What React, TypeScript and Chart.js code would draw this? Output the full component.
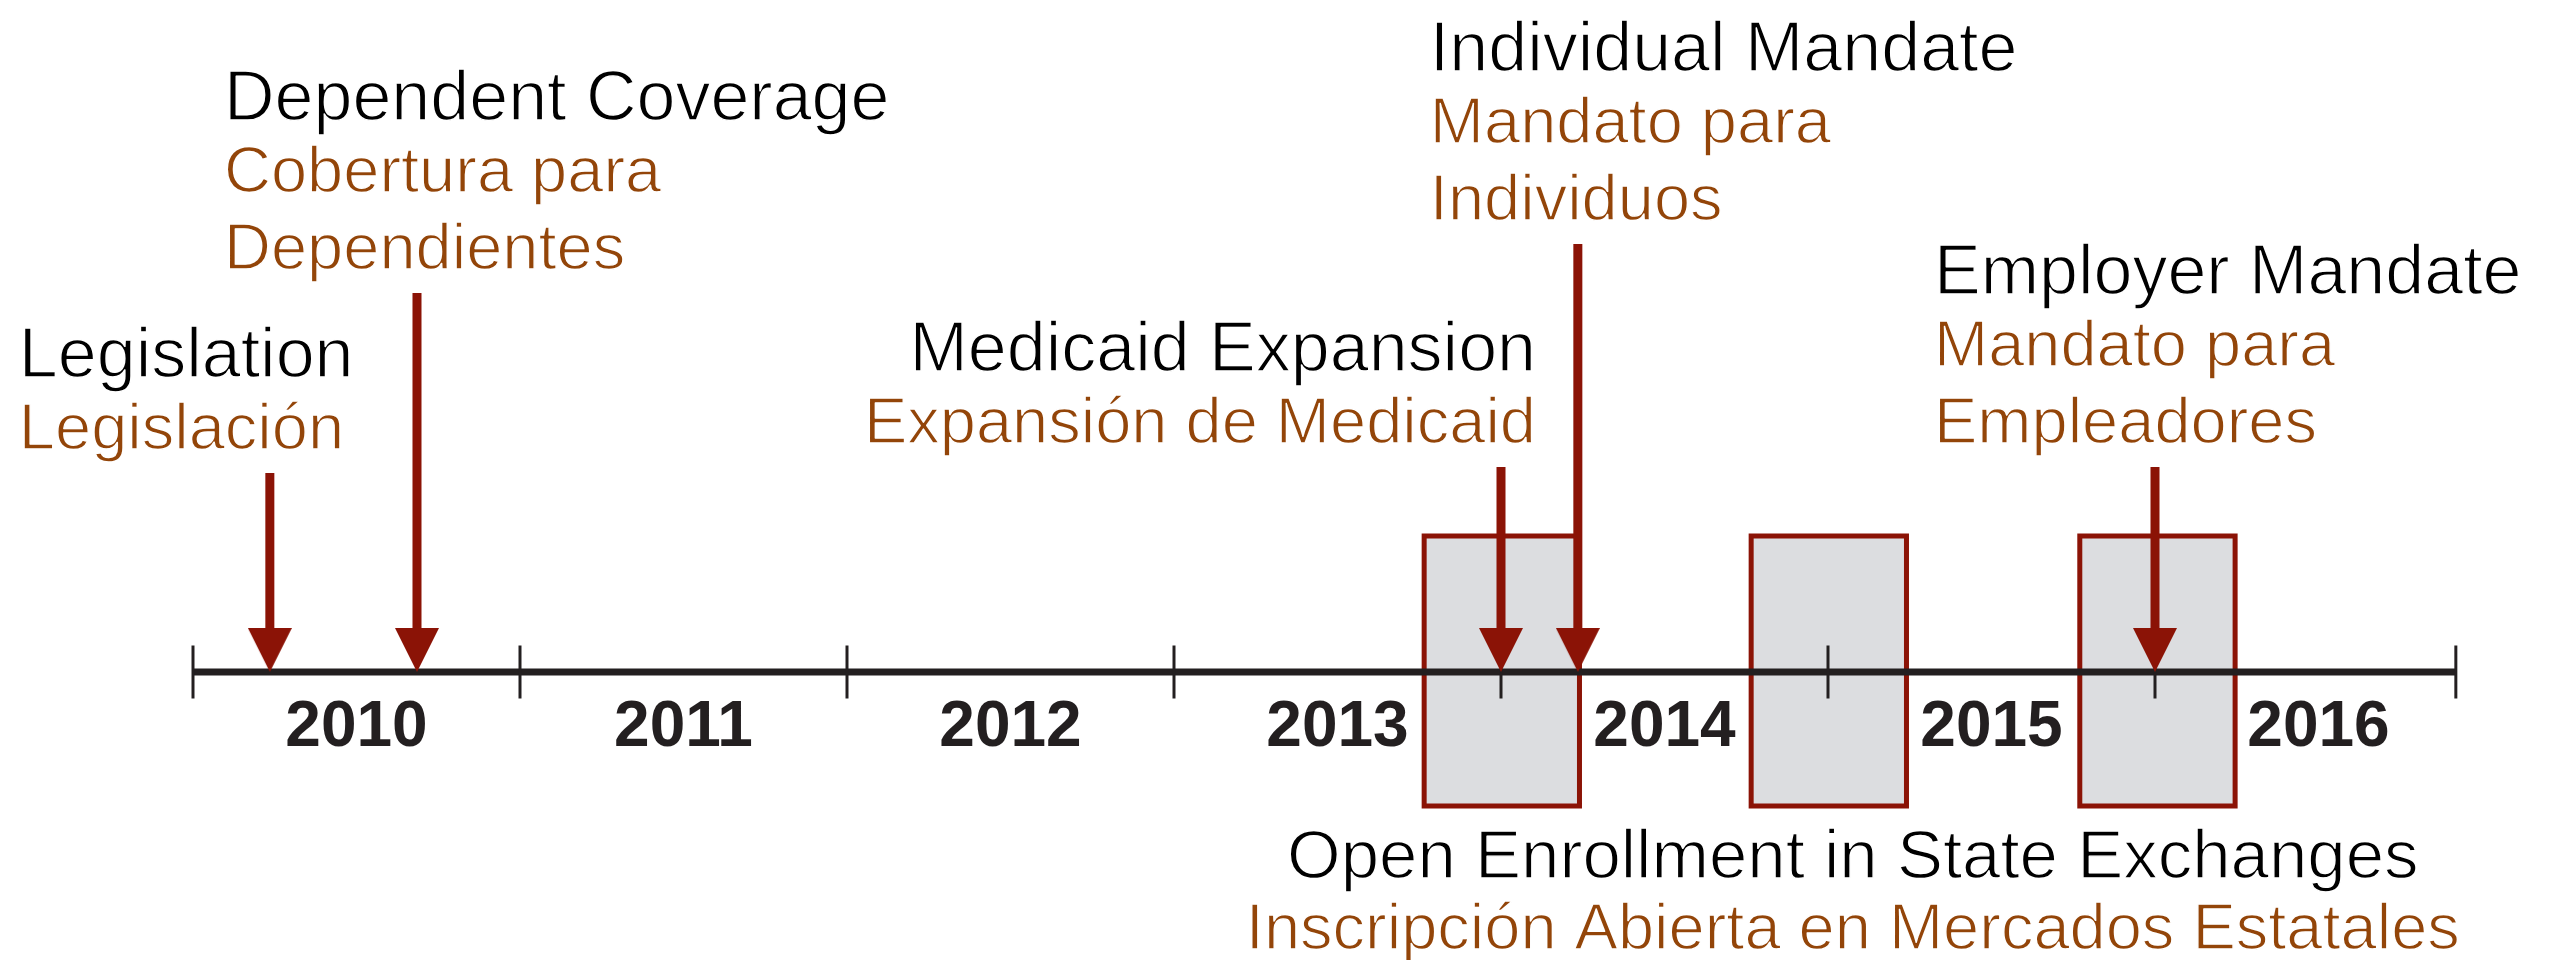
import React, { useEffect, useRef } from "react";
import { Chart, registerables } from "chart.js";

Chart.register(...registerables);

// ---------------- data ----------------
const yearTicks = [2010, 2011, 2012, 2013, 2014, 2015, 2016];
const yearLabels = ["2010", "2011", "2012", "2013", "2014", "2015", "2016"];
const axisStart = 2010;
const axisEnd = 2016.92;

const eventLabelsEn = [
  "Legislation",
  "Dependent Coverage",
  "Medicaid Expansion",
  "Individual Mandate",
  "Employer Mandate",
];
const eventLabelsEs = [
  ["Legislación"],
  ["Cobertura para", "Dependientes"],
  ["Expansión de Medicaid"],
  ["Mandato para", "Individuos"],
  ["Mandato para", "Empleadores"],
];
const eventDates = [2010.235, 2010.685, 2014.0, 2014.235, 2016.0];
const eventStemHeights = [199, 379, 205, 428, 205];

const enrollmentStarts = [2013.765, 2014.765, 2015.77];
const enrollmentEnds = [2014.24, 2015.24, 2016.245];
const enrollmentTop = 136;
const enrollmentBottom = -134;
const enrollmentLabelEn = "Open Enrollment in State Exchanges";
const enrollmentLabelEs = "Inscripción Abierta en Mercados Estatales";

// ---------------- layout / style ----------------
const W = 2550;
const H = 960;
const PX_PER_YEAR = 327;
const X_MIN = 2010 - 193 / PX_PER_YEAR;
const X_MAX = X_MIN + W / PX_PER_YEAR;
const Y_MAX = 672;
const Y_MIN = Y_MAX - H;

const RED = "#8b1306";
const AXIS_COLOR = "#231f20";
const BOX_FILL = "#dcdde0";
const EN_COLOR = "#000000";
const ES_COLOR = "#934509";
const FONT_FAMILY = '"Liberation Sans", Arial, Helvetica, sans-serif';
const EN_FONT = `70px ${FONT_FAMILY}`;
const ES_FONT = `65px ${FONT_FAMILY}`;
const ENROLL_EN_FONT = `69px ${FONT_FAMILY}`;
const YEAR_FONT = `bold 64px ${FONT_FAMILY}`;
const THIN_STROKE = 1.4;

const HEAD_W = 44;
const HEAD_H = 44;
const SHAFT_END = 30;

const labelAlign: CanvasTextAlign[] = ["left", "left", "right", "left", "left"];
const labelDx = [-251, -193, 35, -148, -221];
const LABEL_GAP = 24;
const ES_LINE = 77;
const EN_TO_ES = 72;

function makeHead(): HTMLCanvasElement {
  const c = document.createElement("canvas");
  c.width = HEAD_W;
  c.height = HEAD_H * 2;
  const g = c.getContext("2d")!;
  g.fillStyle = RED;
  g.beginPath();
  g.moveTo(0, 0);
  g.lineTo(HEAD_W, 0);
  g.lineTo(HEAD_W / 2, HEAD_H);
  g.closePath();
  g.fill();
  return c;
}

// light-weight text: fill, then trim the glyph edges with a thin white stroke
function lightText(ctx: CanvasRenderingContext2D, text: string, x: number, y: number) {
  ctx.fillText(text, x, y);
  ctx.strokeText(text, x, y);
}

const textPlugin = {
  id: "timelineText",
  afterDatasetsDraw(chart: any) {
    const ctx: CanvasRenderingContext2D = chart.ctx;
    const xs = chart.scales.x;
    const ys = chart.scales.y;
    ctx.save();
    ctx.textBaseline = "alphabetic";

    // year labels
    ctx.font = YEAR_FONT;
    ctx.fillStyle = AXIS_COLOR;
    ctx.textAlign = "center";
    const axisY = ys.getPixelForValue(0);
    yearTicks.forEach((yr, i) => {
      ctx.fillText(yearLabels[i], xs.getPixelForValue(yr + 0.5), axisY + 74);
    });

    ctx.strokeStyle = "#ffffff";
    ctx.lineWidth = THIN_STROKE;
    ctx.lineJoin = "round";

    // event labels
    eventDates.forEach((d, i) => {
      const x = xs.getPixelForValue(d) + labelDx[i];
      const top = ys.getPixelForValue(eventStemHeights[i]);
      ctx.textAlign = labelAlign[i];
      let base = top - LABEL_GAP;
      const es = eventLabelsEs[i];
      ctx.font = ES_FONT;
      ctx.fillStyle = ES_COLOR;
      for (let k = es.length - 1; k >= 0; k--) {
        lightText(ctx, es[k], x, base);
        if (k > 0) base -= ES_LINE;
      }
      base -= EN_TO_ES;
      ctx.font = EN_FONT;
      ctx.fillStyle = EN_COLOR;
      lightText(ctx, eventLabelsEn[i], x, base);
    });

    // enrollment label
    const cx = xs.getPixelForValue((enrollmentStarts[1] + enrollmentEnds[1]) / 2) + 24;
    const bottom = ys.getPixelForValue(enrollmentBottom);
    ctx.textAlign = "center";
    ctx.font = ENROLL_EN_FONT;
    ctx.fillStyle = EN_COLOR;
    lightText(ctx, enrollmentLabelEn, cx, bottom + 72);
    ctx.font = ES_FONT;
    ctx.fillStyle = ES_COLOR;
    lightText(ctx, enrollmentLabelEs, cx, bottom + 143);
    ctx.restore();
  },
};

export default function App() {
  const ref = useRef<HTMLCanvasElement | null>(null);

  useEffect(() => {
    document.body.style.margin = "0";
    const canvas = ref.current;
    if (!canvas) return;
    const head = makeHead();

    const datasets: any[] = [];
    datasets.push({
      label: "heads",
      data: eventDates.map((d) => ({ x: d, y: 0 })),
      showLine: false,
      pointStyle: head,
      pointRadius: 22,
      pointHoverRadius: 22,
      order: 1,
    });
    eventDates.forEach((d, i) => {
      datasets.push({
        label: "shaft" + i,
        data: [
          { x: d, y: eventStemHeights[i] },
          { x: d, y: SHAFT_END },
        ],
        showLine: true,
        borderColor: RED,
        borderWidth: 9,
        pointRadius: 0,
        order: 2,
      });
    });
    datasets.push({
      label: "ticks",
      data: [...yearTicks, axisEnd].map((x) => ({ x, y: 0 })),
      showLine: false,
      pointStyle: "line",
      pointRotation: 90,
      pointRadius: 26.5,
      pointBorderColor: AXIS_COLOR,
      pointBackgroundColor: AXIS_COLOR,
      pointBorderWidth: 3,
      order: 3,
    });
    datasets.push({
      label: "axis",
      data: [
        { x: axisStart, y: 0 },
        { x: axisEnd, y: 0 },
      ],
      showLine: true,
      borderColor: AXIS_COLOR,
      borderWidth: 7,
      pointRadius: 0,
      order: 4,
    });
    enrollmentStarts.forEach((s, i) => {
      const e = enrollmentEnds[i];
      datasets.push({
        label: "enroll" + i,
        data: [
          { x: s, y: enrollmentBottom },
          { x: s, y: enrollmentTop },
          { x: e, y: enrollmentTop },
          { x: e, y: enrollmentBottom },
          { x: s, y: enrollmentBottom },
        ],
        showLine: true,
        fill: "shape",
        backgroundColor: BOX_FILL,
        borderColor: RED,
        borderWidth: 5,
        borderJoinStyle: "miter",
        borderCapStyle: "square",
        pointRadius: 0,
        order: 5,
      });
    });

    const chart = new Chart(canvas, {
      type: "line",
      data: { datasets },
      options: {
        responsive: false,
        animation: false,
        events: [],
        layout: { padding: 0, autoPadding: false },
        plugins: {
          legend: { display: false },
          tooltip: { enabled: false },
        },
        scales: {
          x: { type: "linear", min: X_MIN, max: X_MAX, display: false },
          y: { type: "linear", min: Y_MIN, max: Y_MAX, display: false },
        },
      },
      plugins: [textPlugin],
    } as any);

    return () => chart.destroy();
  }, []);

  return (
    <canvas
      ref={ref}
      width={W}
      height={H}
      style={{ display: "block", width: W, height: H }}
    />
  );
}
